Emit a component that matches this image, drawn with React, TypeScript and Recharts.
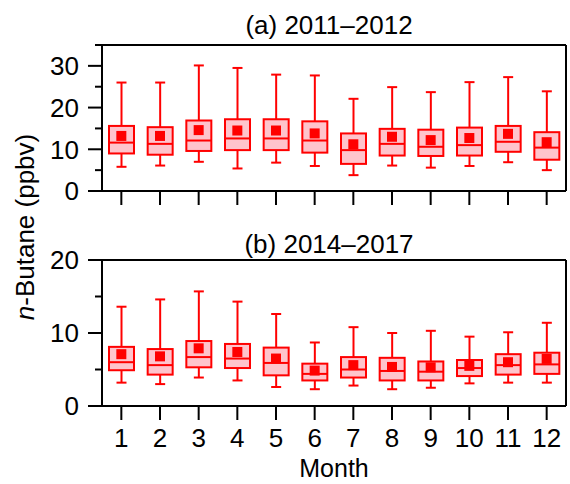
import React from 'react';
import { ComposedChart, Bar, Scatter, XAxis, YAxis, ReferenceLine } from 'recharts';

const months = ['1', '2', '3', '4', '5', '6', '7', '8', '9', '10', '11', '12'];

// (a) 2011–2012
const aMin = [5.8, 6.1, 7.0, 5.4, 6.8, 6.0, 3.8, 6.1, 5.6, 6.0, 6.9, 5.0];
const aQ1 = [9.0, 8.7, 9.6, 9.8, 9.8, 9.2, 6.5, 8.5, 8.4, 8.5, 9.4, 7.5];
const aMed = [11.6, 11.3, 12.1, 12.6, 12.6, 12.1, 9.8, 11.3, 10.6, 11.0, 11.8, 10.4];
const aQ3 = [15.6, 15.3, 16.9, 17.2, 17.2, 16.7, 13.8, 14.9, 14.7, 15.2, 15.6, 14.1];
const aMax = [26.0, 26.0, 30.1, 29.5, 27.9, 27.7, 22.1, 24.9, 23.7, 26.1, 27.3, 23.9];
const aMean = [13.2, 13.2, 14.6, 14.5, 14.5, 13.8, 11.2, 13.0, 12.2, 12.7, 13.7, 11.7];

// (b) 2014–2017
const bMin = [3.2, 3.0, 3.9, 3.5, 2.6, 2.3, 2.8, 2.3, 2.5, 3.1, 3.2, 3.2];
const bQ1 = [4.9, 4.3, 5.3, 5.2, 4.2, 3.5, 3.9, 3.5, 3.5, 4.1, 4.3, 4.4];
const bMed = [6.0, 5.6, 6.7, 6.5, 5.9, 4.4, 5.0, 4.8, 4.7, 5.2, 5.6, 5.7];
const bQ3 = [8.1, 7.8, 8.9, 8.5, 8.0, 5.8, 6.7, 6.6, 6.1, 6.3, 7.1, 7.3];
const bMax = [13.6, 14.6, 15.7, 14.3, 12.6, 8.7, 10.8, 10.0, 10.3, 9.5, 10.1, 11.4];
const bMean = [7.1, 6.8, 7.9, 7.4, 6.5, 4.85, 5.6, 5.35, 5.3, 5.5, 6.0, 6.45];

const aTicks = [0, 5, 10, 15, 20, 25, 30, 35];
const bTicks = [0, 5, 10, 15, 20];

const RED = '#ff0000';
const PINK = '#ffc4cc';
const FONT = '"Liberation Sans", Arial, sans-serif';

const buildRows = (mn: number[], q1: number[], med: number[], q3: number[], mx: number[], mean: number[]) =>
  months.map((m, i) => ({
    month: m,
    range: [mn[i], mx[i]],
    min: mn[i],
    q1: q1[i],
    median: med[i],
    q3: q3[i],
    max: mx[i],
    mean: mean[i],
  }));

const BoxShape = (props: any) => {
  const { x, y, width, height, payload } = props;
  const { min, q1, median, q3, max } = payload;
  const toY = (v: number) => y + ((max - v) / (max - min)) * height;
  const cx = x + width / 2;
  const cap = 5;
  return (
    <g>
      <line x1={cx} x2={cx} y1={toY(max)} y2={toY(q3)} stroke={RED} strokeWidth={2} />
      <line x1={cx} x2={cx} y1={toY(q1)} y2={toY(min)} stroke={RED} strokeWidth={2} />
      <line x1={cx - cap} x2={cx + cap} y1={toY(max)} y2={toY(max)} stroke={RED} strokeWidth={2} />
      <line x1={cx - cap} x2={cx + cap} y1={toY(min)} y2={toY(min)} stroke={RED} strokeWidth={2} />
      <rect x={x} y={toY(q3)} width={width} height={toY(q1) - toY(q3)} fill={PINK} stroke={RED} strokeWidth={2} />
      <line x1={x} x2={x + width} y1={toY(median)} y2={toY(median)} stroke={RED} strokeWidth={2} />
    </g>
  );
};

const MeanShape = (props: any) => {
  const { cx, cy } = props;
  return <rect x={cx - 5} y={cy - 5} width={10} height={10} fill={RED} />;
};

const LeftTick = (props: any) => {
  const { x, y, payload } = props;
  const major = payload.value % 10 === 0;
  return (
    <g>
      <line x1={x - (major ? 14 : 7)} x2={x} y1={y} y2={y} stroke="#000" strokeWidth={2} />
      {major && (
        <text x={x - 23} y={y} dy="0.36em" textAnchor="end" fontSize={26} fontFamily={FONT} fill="#000">
          {payload.value}
        </text>
      )}
    </g>
  );
};

const RightTick = (props: any) => {
  const { x, y, payload } = props;
  const major = payload.value % 10 === 0;
  return <line x1={x} x2={x + (major ? 14 : 7)} y1={y} y2={y} stroke="#000" strokeWidth={2} />;
};

const BottomTick = (props: any) => {
  const { x, y, payload, showLabel } = props;
  return (
    <g>
      <line x1={x} x2={x} y1={y} y2={y + 14} stroke="#000" strokeWidth={2} />
      {showLabel && (
        <text x={x} y={y + 41} textAnchor="middle" fontSize={26} fontFamily={FONT} fill="#000">
          {payload.value}
        </text>
      )}
    </g>
  );
};

const Panel = ({ rows, max, ticks, height, bottom, showLabel }: any) => (
  <ComposedChart width={570} height={height} data={rows} margin={{ top: 45, right: 0, bottom: 0, left: 0 }}>
    <XAxis
      dataKey="month"
      height={bottom}
      axisLine={{ stroke: '#000', strokeWidth: 2 }}
      tickLine={false}
      tickSize={0}
      tickMargin={0}
      interval={0}
      tick={<BottomTick showLabel={showLabel} />}
    />
    <YAxis
      yAxisId="l"
      width={102}
      domain={[0, max]}
      ticks={ticks}
      interval={0}
      axisLine={{ stroke: '#000', strokeWidth: 2 }}
      tickLine={false}
      tickSize={0}
      tickMargin={0}
      tick={<LeftTick />}
    />
    <YAxis
      yAxisId="r"
      orientation="right"
      width={4}
      domain={[0, max]}
      ticks={ticks}
      interval={0}
      axisLine={{ stroke: '#000', strokeWidth: 2 }}
      tickLine={false}
      tickSize={0}
      tickMargin={0}
      tick={<RightTick />}
    />
    <ReferenceLine yAxisId="l" y={max} stroke="#000" strokeWidth={2} />
    <Bar yAxisId="l" dataKey="range" barSize={25} shape={<BoxShape />} isAnimationActive={false} />
    <Scatter yAxisId="l" dataKey="mean" shape={<MeanShape />} isAnimationActive={false} />
  </ComposedChart>
);

export default function App() {
  const rowsA = buildRows(aMin, aQ1, aMed, aQ3, aMax, aMean);
  const rowsB = buildRows(bMin, bQ1, bMed, bQ3, bMax, bMean);
  return (
    <div style={{ position: 'absolute', left: 0, top: 0, width: 570, height: 484, background: '#fff', fontFamily: FONT }}>
      <div style={{ position: 'absolute', left: 0, top: 0 }}>
        <Panel rows={rowsA} max={35} ticks={aTicks} height={215} bottom={24} showLabel={false} />
      </div>
      <div style={{ position: 'absolute', left: 0, top: 215 }}>
        <Panel rows={rowsB} max={20} ticks={bTicks} height={269} bottom={78} showLabel={true} />
      </div>
      <svg width={570} height={484} style={{ position: 'absolute', left: 0, top: 0, pointerEvents: 'none' }}>
        <text x={329} y={34} textAnchor="middle" fontSize={26} fontFamily={FONT} fill="#000">
          (a) 2011–2012
        </text>
        <text x={329} y={253} textAnchor="middle" fontSize={26} fontFamily={FONT} fill="#000">
          (b) 2014–2017
        </text>
        <text x={334} y={477} textAnchor="middle" fontSize={25} fontFamily={FONT} fill="#000">
          Month
        </text>
        <text
          transform="translate(34, 227) rotate(-90)"
          textAnchor="middle"
          fontSize={26}
          fontFamily={FONT}
          fill="#000"
        >
          <tspan fontStyle="italic">n</tspan>-Butane (ppbv)
        </text>
      </svg>
    </div>
  );
}
